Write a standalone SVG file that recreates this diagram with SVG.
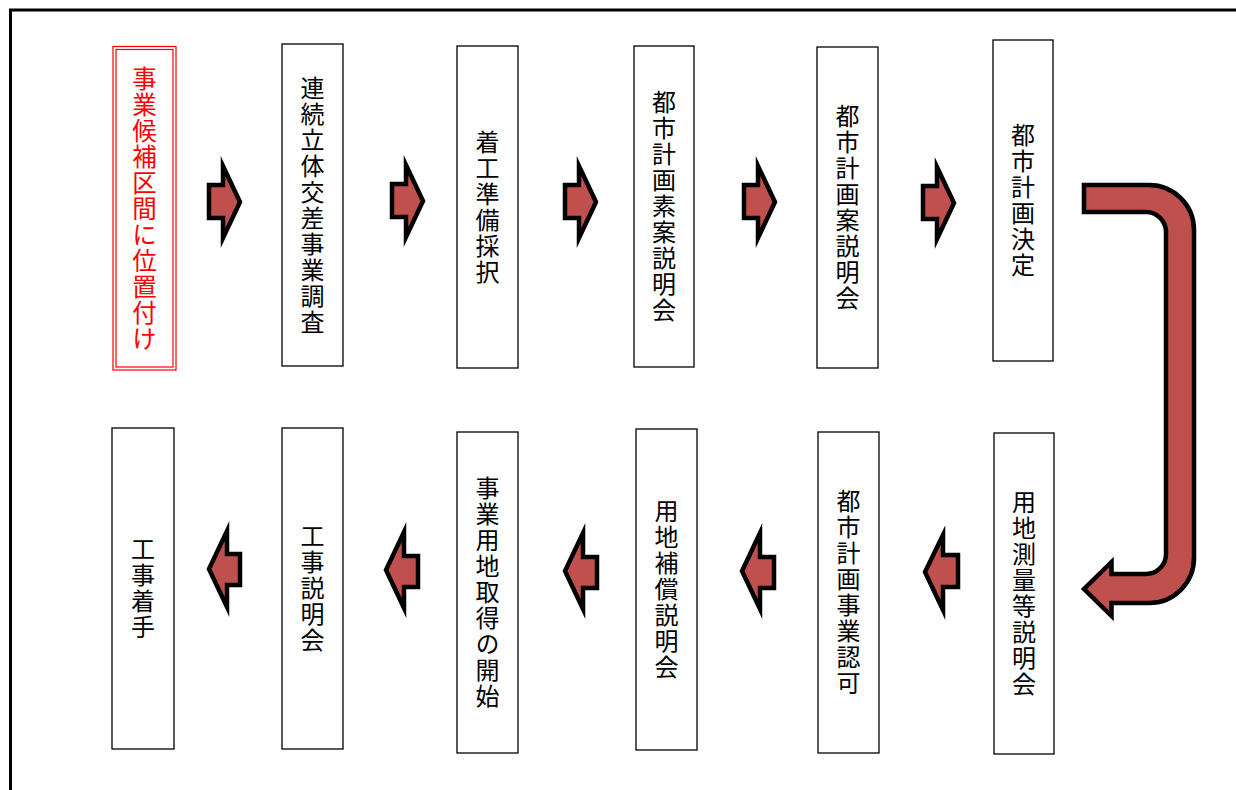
<svg xmlns="http://www.w3.org/2000/svg" width="1236" height="790" viewBox="0 0 1236 790">
<style>
.box{fill:#fff;stroke:#000;stroke-width:1.3}
.red{fill:none;stroke:#ff0000;stroke-width:1.2}
.t{font-family:"Noto Sans CJK JP","Noto Sans CJK SC",sans-serif;font-size:24px;letter-spacing:2px;writing-mode:vertical-rl;text-orientation:upright;text-anchor:middle;fill:#000}
.tr{font-size:24.5px;letter-spacing:1.5px;fill:#ff0000}
.arr{fill:#C0504D;stroke:#000;stroke-width:4.5;stroke-linejoin:miter;stroke-miterlimit:10}
</style>
<rect width="1236" height="790" fill="#fff"/>
<rect x="10.5" y="10" width="1260" height="820" fill="none" stroke="#000" stroke-width="3"/>

<g id="n1">
<rect class="red" x="113" y="46.5" width="63" height="323.5"/>
<rect class="red" x="116" y="49.5" width="57" height="317.5"/>
<text class="t tr" x="144.5" y="209">事業候補区間に位置付け</text>
</g>
<g id="n2">
<rect class="box" x="282" y="44" width="61" height="322"/>
<text class="t" x="312.5" y="206">連続立体交差事業調査</text>
</g>
<g id="n3">
<rect class="box" x="457" y="46" width="61" height="322"/>
<text class="t" x="487.5" y="208">着工準備採択</text>
</g>
<g id="n4">
<rect class="box" x="634" y="46" width="60" height="321"/>
<text class="t" x="664" y="207">都市計画素案説明会</text>
</g>
<g id="n5">
<rect class="box" x="817" y="47" width="61" height="321"/>
<text class="t" x="847.5" y="208">都市計画案説明会</text>
</g>
<g id="n6">
<rect class="box" x="993" y="40" width="60" height="321"/>
<text class="t" x="1023" y="201">都市計画決定</text>
</g>

<g id="n7">
<rect class="box" x="112" y="428" width="62" height="321"/>
<text class="t" x="143" y="589">工事着手</text>
</g>
<g id="n8">
<rect class="box" x="282" y="428" width="61" height="321"/>
<text class="t" x="312.5" y="589">工事説明会</text>
</g>
<g id="n9">
<rect class="box" x="457" y="432" width="61" height="321"/>
<text class="t" x="487.5" y="593">事業用地取得の開始</text>
</g>
<g id="n10">
<rect class="box" x="636" y="429" width="61" height="321"/>
<text class="t" x="666.5" y="590">用地補償説明会</text>
</g>
<g id="n11">
<rect class="box" x="818" y="432" width="61" height="321"/>
<text class="t" x="848.5" y="593">都市計画事業認可</text>
</g>
<g id="n12">
<rect class="box" x="994" y="433" width="60" height="321"/>
<text class="t" x="1024" y="594">用地測量等説明会</text>
</g>

<g id="connectors">
<path class="arr" d="M209,185 H223 V166 L240,202 L223,238 V218 H209 Z"/>
<path class="arr" d="M392,184 H406 V165 L423,201 L406,237 V217 H392 Z"/>
<path class="arr" d="M565,185 H579 V166 L596,202 L579,238 V218 H565 Z"/>
<path class="arr" d="M744,185 H758 V166 L775,202 L758,238 V218 H744 Z"/>
<path class="arr" d="M923,186 H937 V167 L954,203 L937,239 V219 H923 Z"/>

<path class="arr" d="M240,554 H227 V531 L209,569 L227,607 V585 H240 Z"/>
<path class="arr" d="M418,556 H404 V532 L386,570 L404,608 V587 H418 Z"/>
<path class="arr" d="M597,557 H583 V533 L565,571 L583,609 V588 H597 Z"/>
<path class="arr" d="M774,557 H760 V533 L742,571 L760,609 V588 H774 Z"/>
<path class="arr" d="M958,555 H943 V535 L925,572 L943,610 V587 H958 Z"/>

<path class="arr" d="M1084,185 H1149 A45,45 0 0 1 1194,230 V558 A45,45 0 0 1 1149,603 H1111.5 V616 L1084,589 L1111.5,562 V574 H1146 A20,20 0 0 0 1166,554 V232 A20,20 0 0 0 1146,212 H1084 Z"/>
</g>
</svg>
